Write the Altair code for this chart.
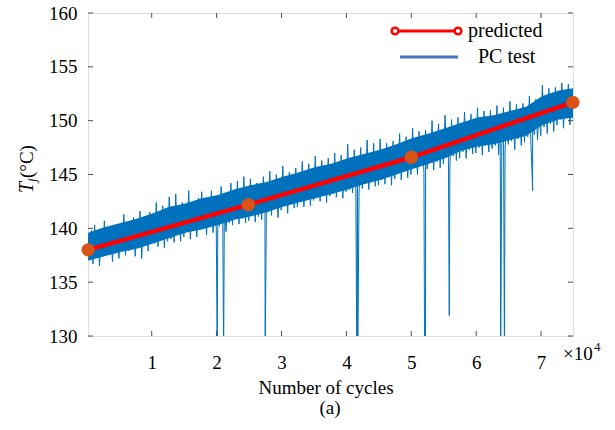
import altair as alt
import numpy as np
import pandas as pd

# ---- data -------------------------------------------------------------
# Junction temperature recorded during the power-cycling test,
# one value every 250 cycles starting at cycle 200 (peak / trough pairs).
pc_test_temp = [
    139.4, 137.1, 139.8, 136.7, 140.3, 137.6, 139.2, 136.5, 139.6, 137.4,
    140.7, 137.5, 139.7, 137.9, 139.9, 136.9, 140.1, 137.7, 139.5, 137.2,
    140.2, 138.1, 141.3, 137.5, 140.0, 137.9, 140.3, 138.2, 141.0, 137.4,
    140.7, 138.4, 141.6, 137.2, 140.4, 138.5, 140.8, 137.9, 141.5, 138.6,
    141.3, 138.6, 142.4, 138.3, 141.1, 139.0, 142.1, 138.2, 141.4, 138.8,
    142.9, 139.0, 141.6, 138.7, 143.2, 139.4, 141.5, 138.8, 142.4, 139.2,
    142.1, 139.7, 143.5, 139.0, 142.3, 139.8, 141.9, 139.2, 142.8, 139.9,
    143.4, 140.1, 142.3, 139.4, 142.5, 140.3, 143.5, 139.6, 142.2, 140.0,
    142.8, 140.2, 143.9, 140.6, 142.9, 139.7, 142.6, 140.5, 144.2, 140.3,
    143.3, 141.0, 144.4, 140.4, 143.7, 140.9, 144.8, 140.5, 143.2, 140.7,
    144.6, 141.3, 143.6, 140.6, 144.2, 141.1, 143.4, 140.8, 144.8, 141.4,
    144.0, 141.5, 145.3, 141.2, 144.2, 141.9, 145.0, 141.0, 144.1, 141.7,
    145.8, 142.1, 144.5, 141.4, 145.2, 142.3, 144.6, 141.9, 145.6, 142.0,
    144.9, 142.5, 146.2, 142.0, 145.1, 142.7, 146.0, 142.1, 145.0, 142.6,
    146.7, 142.8, 145.3, 142.5, 146.3, 143.1, 145.5, 142.4, 146.5, 143.0,
    145.9, 143.2, 147.0, 142.9, 145.6, 143.5, 146.8, 142.8, 145.8, 143.4,
    147.8, 143.6, 146.2, 143.3, 147.3, 143.9, 146.0, 143.2, 147.5, 143.7,
    146.6, 144.2, 148.2, 143.6, 146.9, 144.4, 147.9, 143.9, 146.7, 144.0,
    148.3, 144.5, 147.1, 144.1, 147.9, 144.8, 147.2, 144.0, 148.1, 144.6,
    147.5, 145.1, 148.8, 144.5, 147.7, 145.3, 148.5, 144.7, 147.6, 145.0,
    149.3, 145.6, 148.0, 145.0, 149.0, 145.8, 148.2, 145.2, 149.1, 145.5,
    148.5, 146.1, 150.0, 145.4, 148.7, 146.2, 149.7, 145.6, 148.6, 146.0,
    150.5, 146.6, 149.0, 145.8, 150.1, 146.7, 149.2, 146.3, 150.3, 146.5,
    149.7, 147.1, 150.8, 146.5, 149.4, 147.3, 150.6, 146.9, 149.9, 147.0,
    151.2, 147.5, 150.0, 146.8, 150.9, 147.7, 150.1, 147.1, 151.0, 147.4,
    150.3, 147.7, 151.4, 146.8, 150.2, 147.9, 151.2, 147.3, 150.4, 147.8,
    151.8, 148.1, 150.6, 147.3, 151.5, 148.3, 150.8, 147.7, 151.6, 148.0,
    151.0, 148.5, 152.3, 147.8, 151.2, 148.7, 152.0, 148.2, 151.3, 148.6,
    153.3, 149.4, 152.2, 148.8, 153.0, 149.7, 152.5, 149.0, 153.1, 149.6,
    152.7, 150.1, 153.5, 149.3, 152.6, 150.3, 153.4, 149.6, 152.9, 150.1,
]
first_cycle = 200
cycle_step = 250

# Dense core of the measured trace, every 2500 cycles
core_cycles = [200, 2700, 5200, 7700, 10200, 12700, 15200, 17700, 20200, 22700,
               25200, 27700, 30200, 32700, 35200, 37700, 40200, 42700, 45200, 47700,
               50200, 52700, 55200, 57700, 60200, 62700, 65200, 67700, 70200, 72700,
               74920]
core_upper = [139.6, 140.1, 140.5, 140.9, 141.4, 142.0, 142.3, 142.8, 143.1, 143.6,
              144.0, 144.3, 144.8, 145.2, 145.7, 146.0, 146.5, 146.9, 147.3, 147.8,
              148.4, 148.8, 149.3, 149.8, 150.3, 150.5, 150.9, 151.3, 152.3, 152.8,
              153.0]
core_lower = [137.0, 137.4, 137.8, 138.1, 138.6, 139.1, 139.6, 139.9, 140.3, 140.8,
              141.1, 141.5, 142.0, 142.4, 142.8, 143.2, 143.6, 144.1, 144.5, 145.0,
              145.5, 146.0, 146.5, 147.2, 147.6, 147.8, 148.2, 148.6, 149.6, 150.1,
              150.3]

# Short measurement drop-outs
dip_cycles = [20090, 21080, 27480, 41600, 41750, 52050, 52200, 55850, 63780, 64350, 68700]
dip_temp = [128.0, 128.0, 128.0, 128.0, 128.0, 128.0, 128.0, 131.9, 128.0, 128.0, 143.5]

# Predicted junction temperature
pred_cycles = [200, 24900, 50000, 74900]
pred_temp = [138.0, 142.2, 146.6, 151.7]

x_ticks = [10000, 20000, 30000, 40000, 50000, 60000, 70000]
y_ticks = [130, 135, 140, 145, 150, 155, 160]

# ---- frames -----------------------------------------------------------
test_df = pd.DataFrame({
    "cycles": first_cycle + cycle_step * np.arange(len(pc_test_temp)),
    "temp": pc_test_temp,
})
test_df = pd.concat(
    [test_df, pd.DataFrame({"cycles": dip_cycles, "temp": dip_temp})]
).sort_values("cycles").reset_index(drop=True)
core_df = pd.DataFrame({"cycles": core_cycles, "temp": core_lower, "temp2": core_upper})
pred_df = pd.DataFrame({"cycles": pred_cycles, "temp": pred_temp})
xt_df = pd.DataFrame({"cycles": x_ticks})
yt_df = pd.DataFrame({"temp": y_ticks})
one = pd.DataFrame({"k": [0]})

W, H = 485, 323
FONT = "Liberation Serif"
FRAME = "#4d4d4d"
BLUE = "#0072BD"
RED = "#FF0000"
ORANGE = "#D95319"

xscale = alt.Scale(domain=[180, 74920], nice=False, zero=False)
yscale = alt.Scale(domain=[130, 160], nice=False, zero=False)

x_axis = alt.Axis(values=x_ticks, labelExpr="datum.value / 10000", title=None,
                  grid=False, domain=False, ticks=False, labelPadding=17,
                  labelFont=FONT, labelFontSize=19, labelColor="black")
y_axis = alt.Axis(values=y_ticks, title=None, grid=False, domain=False, ticks=False,
                  labelPadding=11, labelFont=FONT, labelFontSize=19, labelColor="black")

X = alt.X("cycles:Q", scale=xscale, axis=x_axis)
Y = alt.Y("temp:Q", scale=yscale, axis=y_axis)

# ---- series -----------------------------------------------------------
core_band = alt.Chart(core_df).mark_area(color=BLUE, opacity=1, clip=True).encode(
    x=X, y=Y, y2="temp2:Q")
test_line = alt.Chart(test_df).mark_line(color=BLUE, strokeWidth=1, clip=True).encode(
    x=X, y=Y)
pred_line = alt.Chart(pred_df).mark_line(color=RED, strokeWidth=4.5).encode(x=X, y=Y)
pred_pts = alt.Chart(pred_df).mark_point(
    shape="circle", size=130, filled=True, color=ORANGE, opacity=1,
    stroke=ORANGE, strokeWidth=2,
).encode(x=X, y=Y)

# ---- inward ticks on all four sides ------------------------------------
tick_bottom = alt.Chart(xt_df).mark_rule(color=FRAME, strokeWidth=1).encode(
    x=X, y=alt.value(H), y2=alt.value(H - 5))
tick_top = alt.Chart(xt_df).mark_rule(color=FRAME, strokeWidth=1).encode(
    x=X, y=alt.value(0), y2=alt.value(5))
tick_left = alt.Chart(yt_df).mark_rule(color=FRAME, strokeWidth=1).encode(
    y=Y, x=alt.value(0), x2=alt.value(5))
tick_right = alt.Chart(yt_df).mark_rule(color=FRAME, strokeWidth=1).encode(
    y=Y, x=alt.value(W), x2=alt.value(W - 5))


def label(text, x, y, size=20, style="normal", angle=0, align="left"):
    return alt.Chart(one).mark_text(
        text=text, font=FONT, fontSize=size, fontStyle=style, color="black",
        align=align, baseline="middle", angle=angle,
    ).encode(x=alt.value(x), y=alt.value(y))


# ---- legend ------------------------------------------------------------
leg_pred_line = alt.Chart(one).mark_rule(color=RED, strokeWidth=3).encode(
    x=alt.value(307), x2=alt.value(370), y=alt.value(18))
leg_pred_pts = alt.Chart(pd.DataFrame({"px": [307, 370]})).mark_point(
    shape="circle", size=45, filled=True, color="white", opacity=1,
    stroke=RED, strokeWidth=2.5,
).encode(x=alt.X("px:Q", scale=None), y=alt.value(18))
leg_test_line = alt.Chart(one).mark_rule(color="#4472C4", strokeWidth=3).encode(
    x=alt.value(312), x2=alt.value(370), y=alt.value(44))

texts = [
    label("predicted", 380, 18),
    label("PC test", 390, 44),
    label("Number of cycles", 238, 375, size=19, align="center"),
    label("(a)", 242, 395, size=19, align="center"),
    label("×10", 475, 341, size=19),
    label("4", 506, 334, size=13),
    # rotated y-axis title: T_j(°C)
    label("T", -61, 180, size=20, style="italic", angle=270),
    label("j", -56, 169, size=13, style="italic", angle=270),
    label("(°C)", -61, 165, size=19, angle=270),
]

chart = alt.layer(
    core_band, test_line, pred_line, pred_pts,
    tick_bottom, tick_top, tick_left, tick_right,
    leg_pred_line, leg_pred_pts, leg_test_line,
    *texts,
).properties(
    width=W, height=H,
    autosize=alt.AutoSizeParams(type="none"),
    padding={"left": 88, "top": 13, "right": 42, "bottom": 94},
).configure_view(
    stroke=FRAME, strokeWidth=1,
).configure(background="white")

chart.save("out.html", embed_options={"renderer": "svg", "actions": False})
